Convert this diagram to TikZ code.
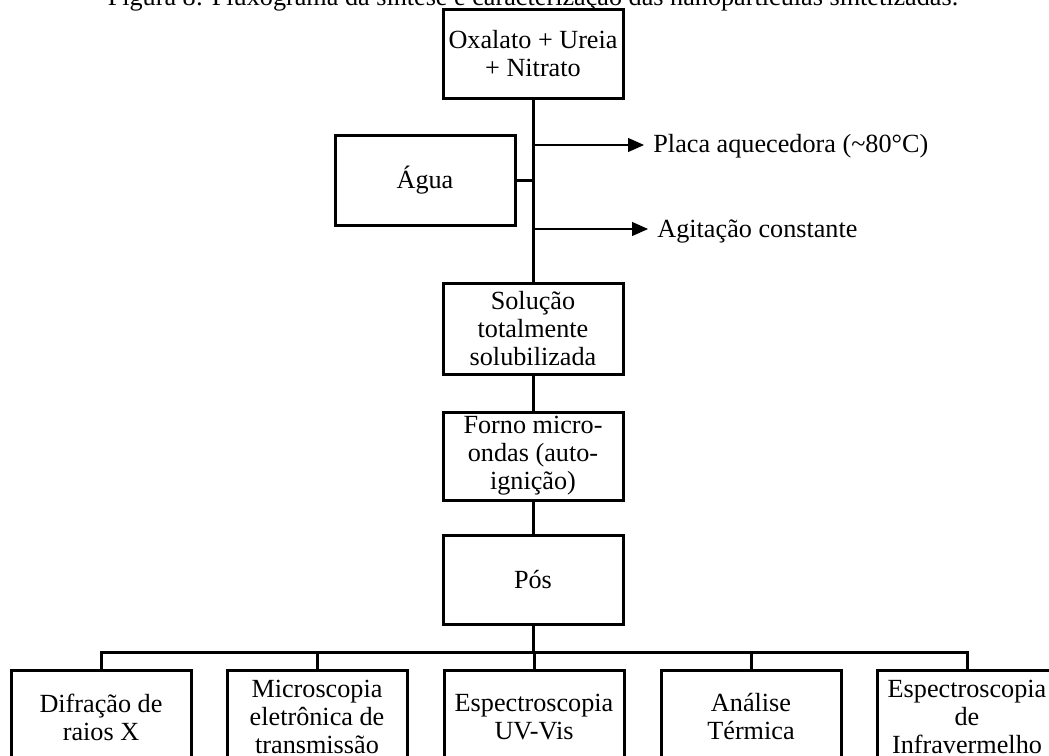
\documentclass[tikz,border=0pt]{standalone}
\usepackage{fontspec}
\setmainfont{Liberation Serif}
\usetikzlibrary{arrows.meta}
\begin{document}
\begin{tikzpicture}[x=0.5pt,y=-0.5pt,
  every node/.style={font=\fontsize{13.1}{14}\selectfont},
  box/.style={draw,line width=1.5pt,minimum width=90pt,align=center,inner sep=0pt},
  link/.style={line width=1.5pt},
  feed/.style={line width=0.6pt,-{Triangle[length=8pt,width=7pt]}},
  lbl/.style={anchor=west,inner sep=0pt}]
\useasboundingbox (0,0) rectangle (1049,755);
\clip (0,0) rectangle (1049,755);

% caption, partly cut by the top edge
\node[anchor=base,inner sep=0pt] (cap) at (533,5)
  {Figura 8: Fluxograma da síntese e caracterização das nanopartículas sintetizadas.};

% main column
\node[box,minimum height=44.5pt] (top) at (533,53.5) {Oxalato + Ureia\\+ Nitrato};
\node[box,minimum height=45pt] (agua) at (425,180.5) {Água};
\node[box,minimum height=45.5pt] (sol) at (533,328.5) {Solução\\totalmente\\solubilizada};
\node[box,minimum height=44pt] (forno) at (533,456) {Forno micro-\\ondas (auto-\\ignição)};
\node[box,minimum height=44.5pt] (pos) at (533,579.5) {Pós};

% process conditions
\node[lbl] (placa) at (653,146) {Placa aquecedora (\textasciitilde 80°C)};
\node[lbl] (agit) at (657,231) {Agitação constante};
\coordinate (j1) at (533,145);
\coordinate (j2) at (533,229);

\draw[link] (top) -- (sol);
\draw[link] (agua.east) -- (agua.east -| top.south);
\draw[feed] (j1) -- ([xshift=-4.5pt]j1 -| placa.west);
\draw[feed] (j2) -- ([xshift=-4.5pt]j2 -| agit.west);
\draw[link] (sol) -- (forno);
\draw[link] (forno) -- (pos);

% characterisation techniques
\coordinate (bus) at (533,652);
\node[box,minimum height=47pt] (b1) at (101,717) {Difração de\\raios X};
\node[box,minimum height=47pt] (b2) at (317,717) {Microscopia\\eletrônica de\\transmissão};
\node[box,minimum height=47pt] (b3) at (534,717) {Espectroscopia\\UV-Vis};
\node[box,minimum height=47pt] (b4) at (751,717) {Análise\\Térmica};
\node[box,minimum height=47pt] (b5) at (967,717) {Espectroscopia\\de\\Infravermelho};

\draw[link] (pos.south) -- (bus);
\foreach \b in {b1,b2,b3,b4,b5}
  \draw[link] (\b.north) |- (bus);
\end{tikzpicture}
\end{document}
